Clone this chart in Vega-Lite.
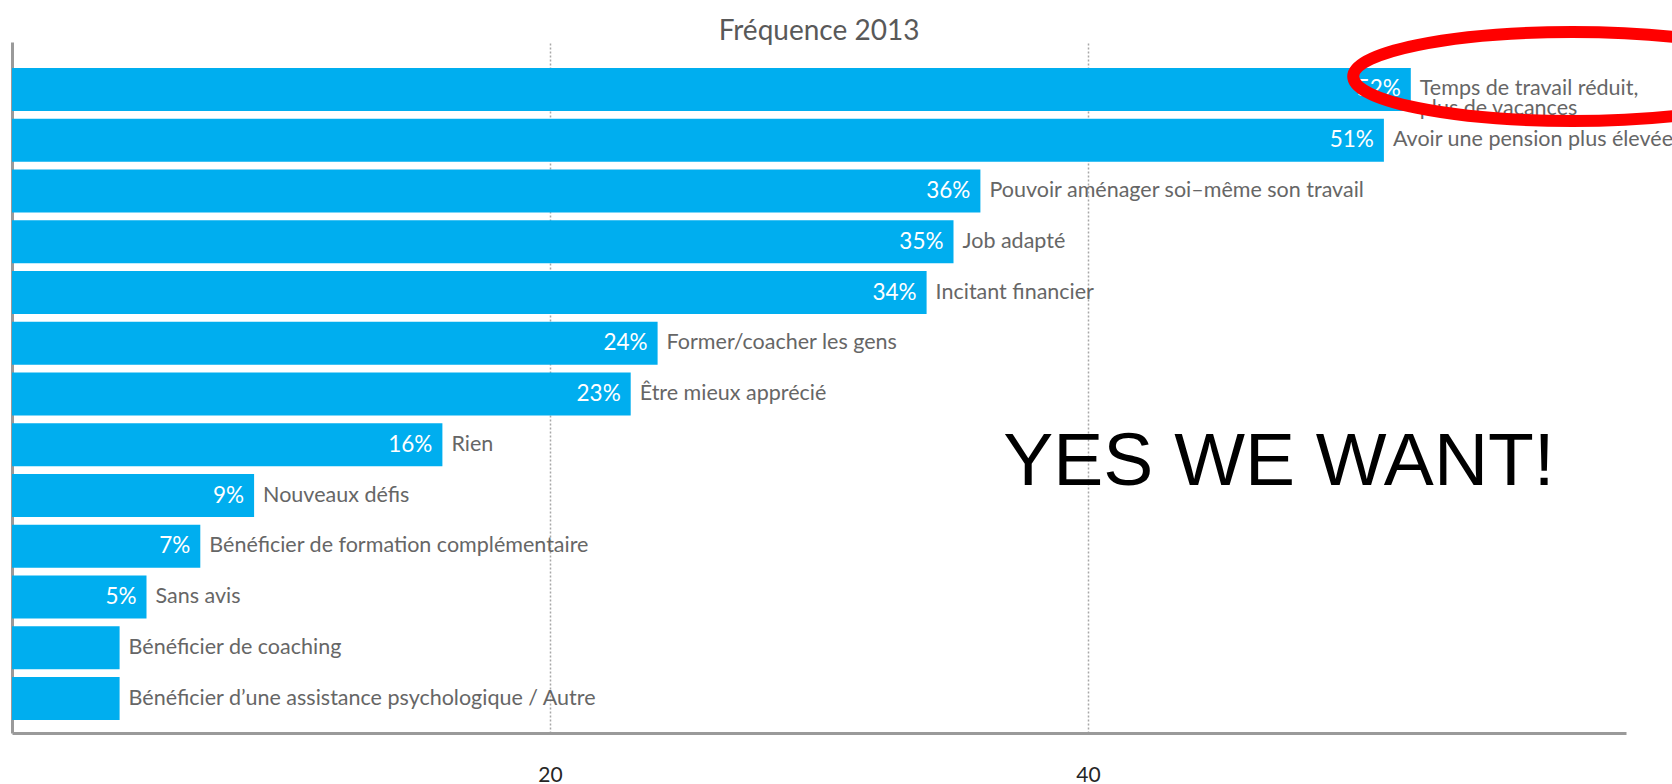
{
  "$schema": "https://vega.github.io/schema/vega-lite/v6.json",
  "autosize": {"type": "none"},
  "padding": {"left": 12, "top": 42, "right": 46, "bottom": 51},
  "width": 1614,
  "height": 691,
  "background": "white",
  "config": {"view": {"stroke": null}},
  "title": {"text": "Fréquence 2013", "font": "Lato", "fontSize": 28, "fontWeight": "normal", "color": "#595959", "anchor": "middle", "frame": "group", "offset": -38},
  "layer": [
    {
      "data": {"name": "main", "values": [
        {"rank": 1, "label": "Temps de travail réduit,\nplus de vacances", "value": 52, "pct": "52%"},
        {"rank": 2, "label": "Avoir une pension plus élevée", "value": 51, "pct": "51%"},
        {"rank": 3, "label": "Pouvoir aménager soi–même son travail", "value": 36, "pct": "36%"},
        {"rank": 4, "label": "Job adapté", "value": 35, "pct": "35%"},
        {"rank": 5, "label": "Incitant financier", "value": 34, "pct": "34%"},
        {"rank": 6, "label": "Former/coacher les gens", "value": 24, "pct": "24%"},
        {"rank": 7, "label": "Être mieux apprécié", "value": 23, "pct": "23%"},
        {"rank": 8, "label": "Rien", "value": 16, "pct": "16%"},
        {"rank": 9, "label": "Nouveaux défis", "value": 9, "pct": "9%"},
        {"rank": 10, "label": "Bénéficier de formation complémentaire", "value": 7, "pct": "7%"},
        {"rank": 11, "label": "Sans avis", "value": 5, "pct": "5%"},
        {"rank": 12, "label": "Bénéficier de coaching", "value": 4, "pct": ""},
        {"rank": 13, "label": "Bénéficier d’une assistance psychologique / Autre", "value": 4, "pct": ""}
      ]},
      "layer": [
        {
          "mark": {"type": "bar", "color": "#00AEEF"},
          "encoding": {
            "y": {"field": "rank", "type": "ordinal", "scale": {"paddingInner": 0.153, "paddingOuter": 0.384, "align": 0.667},
              "axis": {"labels": false, "ticks": false, "title": null, "domainColor": "#9a9a9a", "domainWidth": 3, "grid": false}},
            "x": {"field": "value", "type": "quantitative", "scale": {"domain": [0, 60], "nice": false, "zero": true},
              "axis": {"values": [20, 40], "title": null, "ticks": false, "grid": true, "gridDash": [2, 2], "gridColor": "#a8a8a8", "gridWidth": 1.5,
                "domainColor": "#9a9a9a", "domainWidth": 3, "labelFont": "Lato", "labelFontSize": 21, "labelColor": "#262626", "labelPadding": 31}}
          }
        },
        {
          "mark": {"type": "text", "align": "right", "baseline": "middle", "dx": -10, "font": "Lato", "fontSize": 22.5, "color": "white"},
          "encoding": {
            "y": {"field": "rank", "type": "ordinal"},
            "x": {"field": "value", "type": "quantitative"},
            "text": {"field": "pct"}
          }
        },
        {
          "mark": {"type": "text", "align": "left", "baseline": "middle", "dx": 9, "font": "Lato", "fontSize": 21.5, "color": "#666666", "lineBreak": "\n", "lineHeight": 20},
          "encoding": {
            "y": {"field": "rank", "type": "ordinal"},
            "x": {"field": "value", "type": "quantitative"},
            "text": {"field": "label"}
          }
        }
      ]
    },
    {
      "data": {"values": [{"rank": 1, "value": 58}]},
      "mark": {"type": "point", "shape": "M -1 0 A 1 0.203 0 1 0 1 0 A 1 0.203 0 1 0 -1 0 Z", "filled": false, "stroke": "#ff0000", "strokeWidth": 12, "size": 191844, "opacity": 1, "yOffset": -13},
      "encoding": {
        "y": {"field": "rank", "type": "ordinal"},
        "x": {"field": "value", "type": "quantitative"}
      }
    },
    {
      "data": {"values": [{"rank": 8, "value": 47.1, "note": "YES WE WANT!"}]},
      "mark": {"type": "text", "align": "center", "baseline": "alphabetic", "dy": 40, "font": "Liberation Sans", "fontSize": 75, "color": "black"},
      "encoding": {
        "y": {"field": "rank", "type": "ordinal"},
        "x": {"field": "value", "type": "quantitative"},
        "text": {"field": "note"}
      }
    }
  ]
}
